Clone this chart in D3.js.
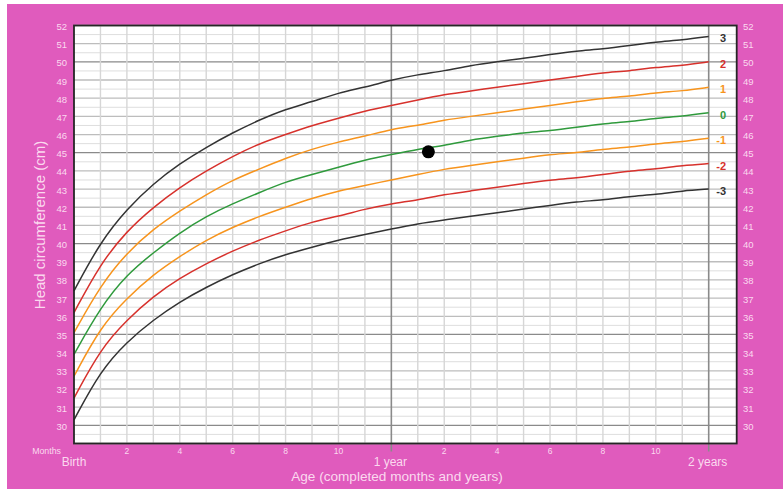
<!DOCTYPE html>
<html><head><meta charset="utf-8">
<script src="https://cdn.jsdelivr.net/npm/d3@7"></script>
<style>html,body{margin:0;padding:0;background:#fff;} svg{display:block;}</style>
</head><body>
<svg id="chart" width="783" height="489"></svg>
<script>
// ---- data ----
const months = [0,1,2,3,4,5,6,7,8,9,10,11,12,13,14,15,16,17,18,19,20,21,22,23,24];
const sdNeg3 = [30.3,33.0,34.6,35.8,36.8,37.6,38.3,38.9,39.4,39.8,40.2,40.5,40.8,41.1,41.3,41.5,41.7,41.9,42.1,42.3,42.4,42.6,42.7,42.9,43.0];
const sdNeg2 = [31.5,34.2,35.8,37.1,38.1,38.9,39.6,40.2,40.7,41.2,41.5,41.9,42.2,42.4,42.7,42.9,43.1,43.3,43.5,43.6,43.8,44.0,44.1,44.3,44.4];
const sdNeg1 = [32.7,35.4,37.0,38.3,39.3,40.2,40.9,41.5,42.0,42.5,42.9,43.2,43.5,43.8,44.1,44.3,44.5,44.7,44.9,45.0,45.2,45.3,45.5,45.6,45.8];
const sd0    = [33.9,36.5,38.3,39.5,40.6,41.5,42.2,42.8,43.4,43.8,44.2,44.6,44.9,45.2,45.4,45.7,45.9,46.1,46.2,46.4,46.6,46.7,46.9,47.0,47.2];
const sd1    = [35.1,37.7,39.5,40.8,41.8,42.7,43.5,44.1,44.7,45.2,45.6,45.9,46.3,46.5,46.8,47.0,47.2,47.4,47.6,47.8,48.0,48.1,48.3,48.4,48.6];
const sd2    = [36.2,38.9,40.7,42.0,43.1,44.0,44.8,45.5,46.0,46.5,46.9,47.3,47.6,47.9,48.2,48.4,48.6,48.8,49.0,49.2,49.4,49.5,49.7,49.8,50.0];
const sd3    = [37.4,40.1,41.9,43.3,44.4,45.3,46.1,46.8,47.4,47.8,48.3,48.6,49.0,49.3,49.5,49.8,50.0,50.2,50.4,50.6,50.7,50.9,51.1,51.2,51.4];
const seriesNames = ["3","2","1","0","-1","-2","-3"];
const seriesColors = ["#333333","#d7312c","#f7941d","#2f9a3c","#f7941d","#d7312c","#333333"];
const yTicks = [30,31,32,33,34,35,36,37,38,39,40,41,42,43,44,45,46,47,48,49,50,51,52];
const monthTickValues = [2,4,6,8,10,14,16,18,20,22];
const monthTickLabels = ["2","4","6","8","10","2","4","6","8","10"];
const yearTickValues = [0,12,24];
const yearTickLabels = ["Birth","1 year","2 years"];
const pointMonth = [13.4];
const pointValue = [45.05];

const allSeries = [sd3, sd2, sd1, sd0, sdNeg1, sdNeg2, sdNeg3];

// ---- layout ----
const svg = d3.select("#chart");
const pink = "#e05bbd";
const lightText = "#fbd9ef";
const font = "'Liberation Sans', Arial, sans-serif";

svg.append("rect").attr("x",7).attr("y",4).attr("width",776).attr("height",485).attr("fill",pink);

const x = d3.scaleLinear().domain([0,24]).range([74,708.7]);
const y = d3.scaleLinear().domain([29,52]).range([443.5,25.5]);
const plotLeft = x(0), plotRight = x(24)+28, plotTop = y(52), plotBottom = y(29);

svg.append("rect").attr("x",plotLeft).attr("y",plotTop).attr("width",plotRight-plotLeft).attr("height",plotBottom-plotTop).attr("fill","#fff");

// horizontal grid (every 0.5 cm)
const hLines = d3.range(29, 52.01, 0.5);
svg.append("g").selectAll("line").data(hLines).join("line")
  .attr("x1",plotLeft).attr("x2",plotRight)
  .attr("y1",d=>y(d)).attr("y2",d=>y(d))
  .attr("stroke",d=> d%5===0 ? "#8a8a8a" : (d%1===0 ? "#bdbdbd" : "#dedede"))
  .attr("stroke-width",d=> d%1===0 ? 1.3 : 1);

// vertical grid (each month)
const vLines = d3.range(1, 25);
svg.append("g").selectAll("line").data(vLines).join("line")
  .attr("y1",plotTop).attr("y2",plotBottom)
  .attr("x1",d=>x(d)).attr("x2",d=>x(d))
  .attr("stroke",d=> d%12===0 ? "#8a8a8a" : "#d6d6d6")
  .attr("stroke-width",d=> d%12===0 ? 1.6 : 1.4);

// small ticks below axis at 1 and 2 years
svg.append("g").selectAll("line").data([12,24]).join("line")
  .attr("x1",d=>x(d)).attr("x2",d=>x(d))
  .attr("y1",plotBottom).attr("y2",plotBottom+8)
  .attr("stroke","#8a8a8a").attr("stroke-width",1.6);

// curves
const line = d3.line().x((d,i)=>x(months[i])).y(d=>y(d)).curve(d3.curveBasis);
svg.append("g").selectAll("path").data(allSeries).join("path")
  .attr("d",d=>line(d)).attr("fill","none")
  .attr("stroke",(d,i)=>seriesColors[i]).attr("stroke-width",1.5);

// curve labels
svg.append("g").selectAll("text").data(allSeries).join("text")
  .attr("x",726).attr("y",d=>y(d[d.length-1])+3)
  .attr("text-anchor","end").attr("dominant-baseline","middle")
  .attr("font-family",font).attr("font-size",11).attr("font-weight","bold")
  .attr("fill",(d,i)=>seriesColors[i]).text((d,i)=>seriesNames[i]);

// plot frame
svg.append("rect").attr("x",plotLeft).attr("y",plotTop).attr("width",plotRight-plotLeft).attr("height",plotBottom-plotTop)
  .attr("fill","none").attr("stroke","#262626").attr("stroke-width",1.8);

// data point
svg.append("g").selectAll("circle").data(pointMonth).join("circle")
  .attr("cx",d=>x(d)).attr("cy",(d,i)=>y(pointValue[i])).attr("r",6.5).attr("fill","#000");

// y tick labels left & right
svg.append("g").selectAll("text").data(yTicks).join("text")
  .attr("x",67).attr("y",d=>y(d)+2).attr("text-anchor","end").attr("dominant-baseline","middle")
  .attr("font-family",font).attr("font-size",9.5).attr("fill",lightText).text(d=>d);
svg.append("g").selectAll("text").data(yTicks).join("text")
  .attr("x",743).attr("y",d=>y(d)+2).attr("text-anchor","start").attr("dominant-baseline","middle")
  .attr("font-family",font).attr("font-size",9.5).attr("fill",lightText).text(d=>d);

// month labels
svg.append("g").selectAll("text").data(monthTickValues).join("text")
  .attr("x",d=>x(d)).attr("y",454).attr("text-anchor","middle")
  .attr("font-family",font).attr("font-size",8.5).attr("fill",lightText).text((d,i)=>monthTickLabels[i]);
svg.append("text").attr("x",61).attr("y",454).attr("text-anchor","end")
  .attr("font-family",font).attr("font-size",8.8).attr("fill",lightText).text("Months");

// year labels
svg.append("g").selectAll("text").data(yearTickValues).join("text")
  .attr("x",(d,i)=> i===0 ? x(d) : x(d)-1).attr("y",466).attr("text-anchor","middle")
  .attr("font-family",font).attr("font-size",12).attr("fill",lightText).text((d,i)=>yearTickLabels[i]);

// axis titles
svg.append("text").attr("x",397).attr("y",481).attr("text-anchor","middle")
  .attr("font-family",font).attr("font-size",13.6).attr("fill",lightText).text("Age (completed months and years)");
svg.append("text").attr("transform","translate(45,225) rotate(-90)").attr("text-anchor","middle")
  .attr("font-family",font).attr("font-size",15).attr("fill",lightText).text("Head circumference (cm)");
</script>
</body></html>
